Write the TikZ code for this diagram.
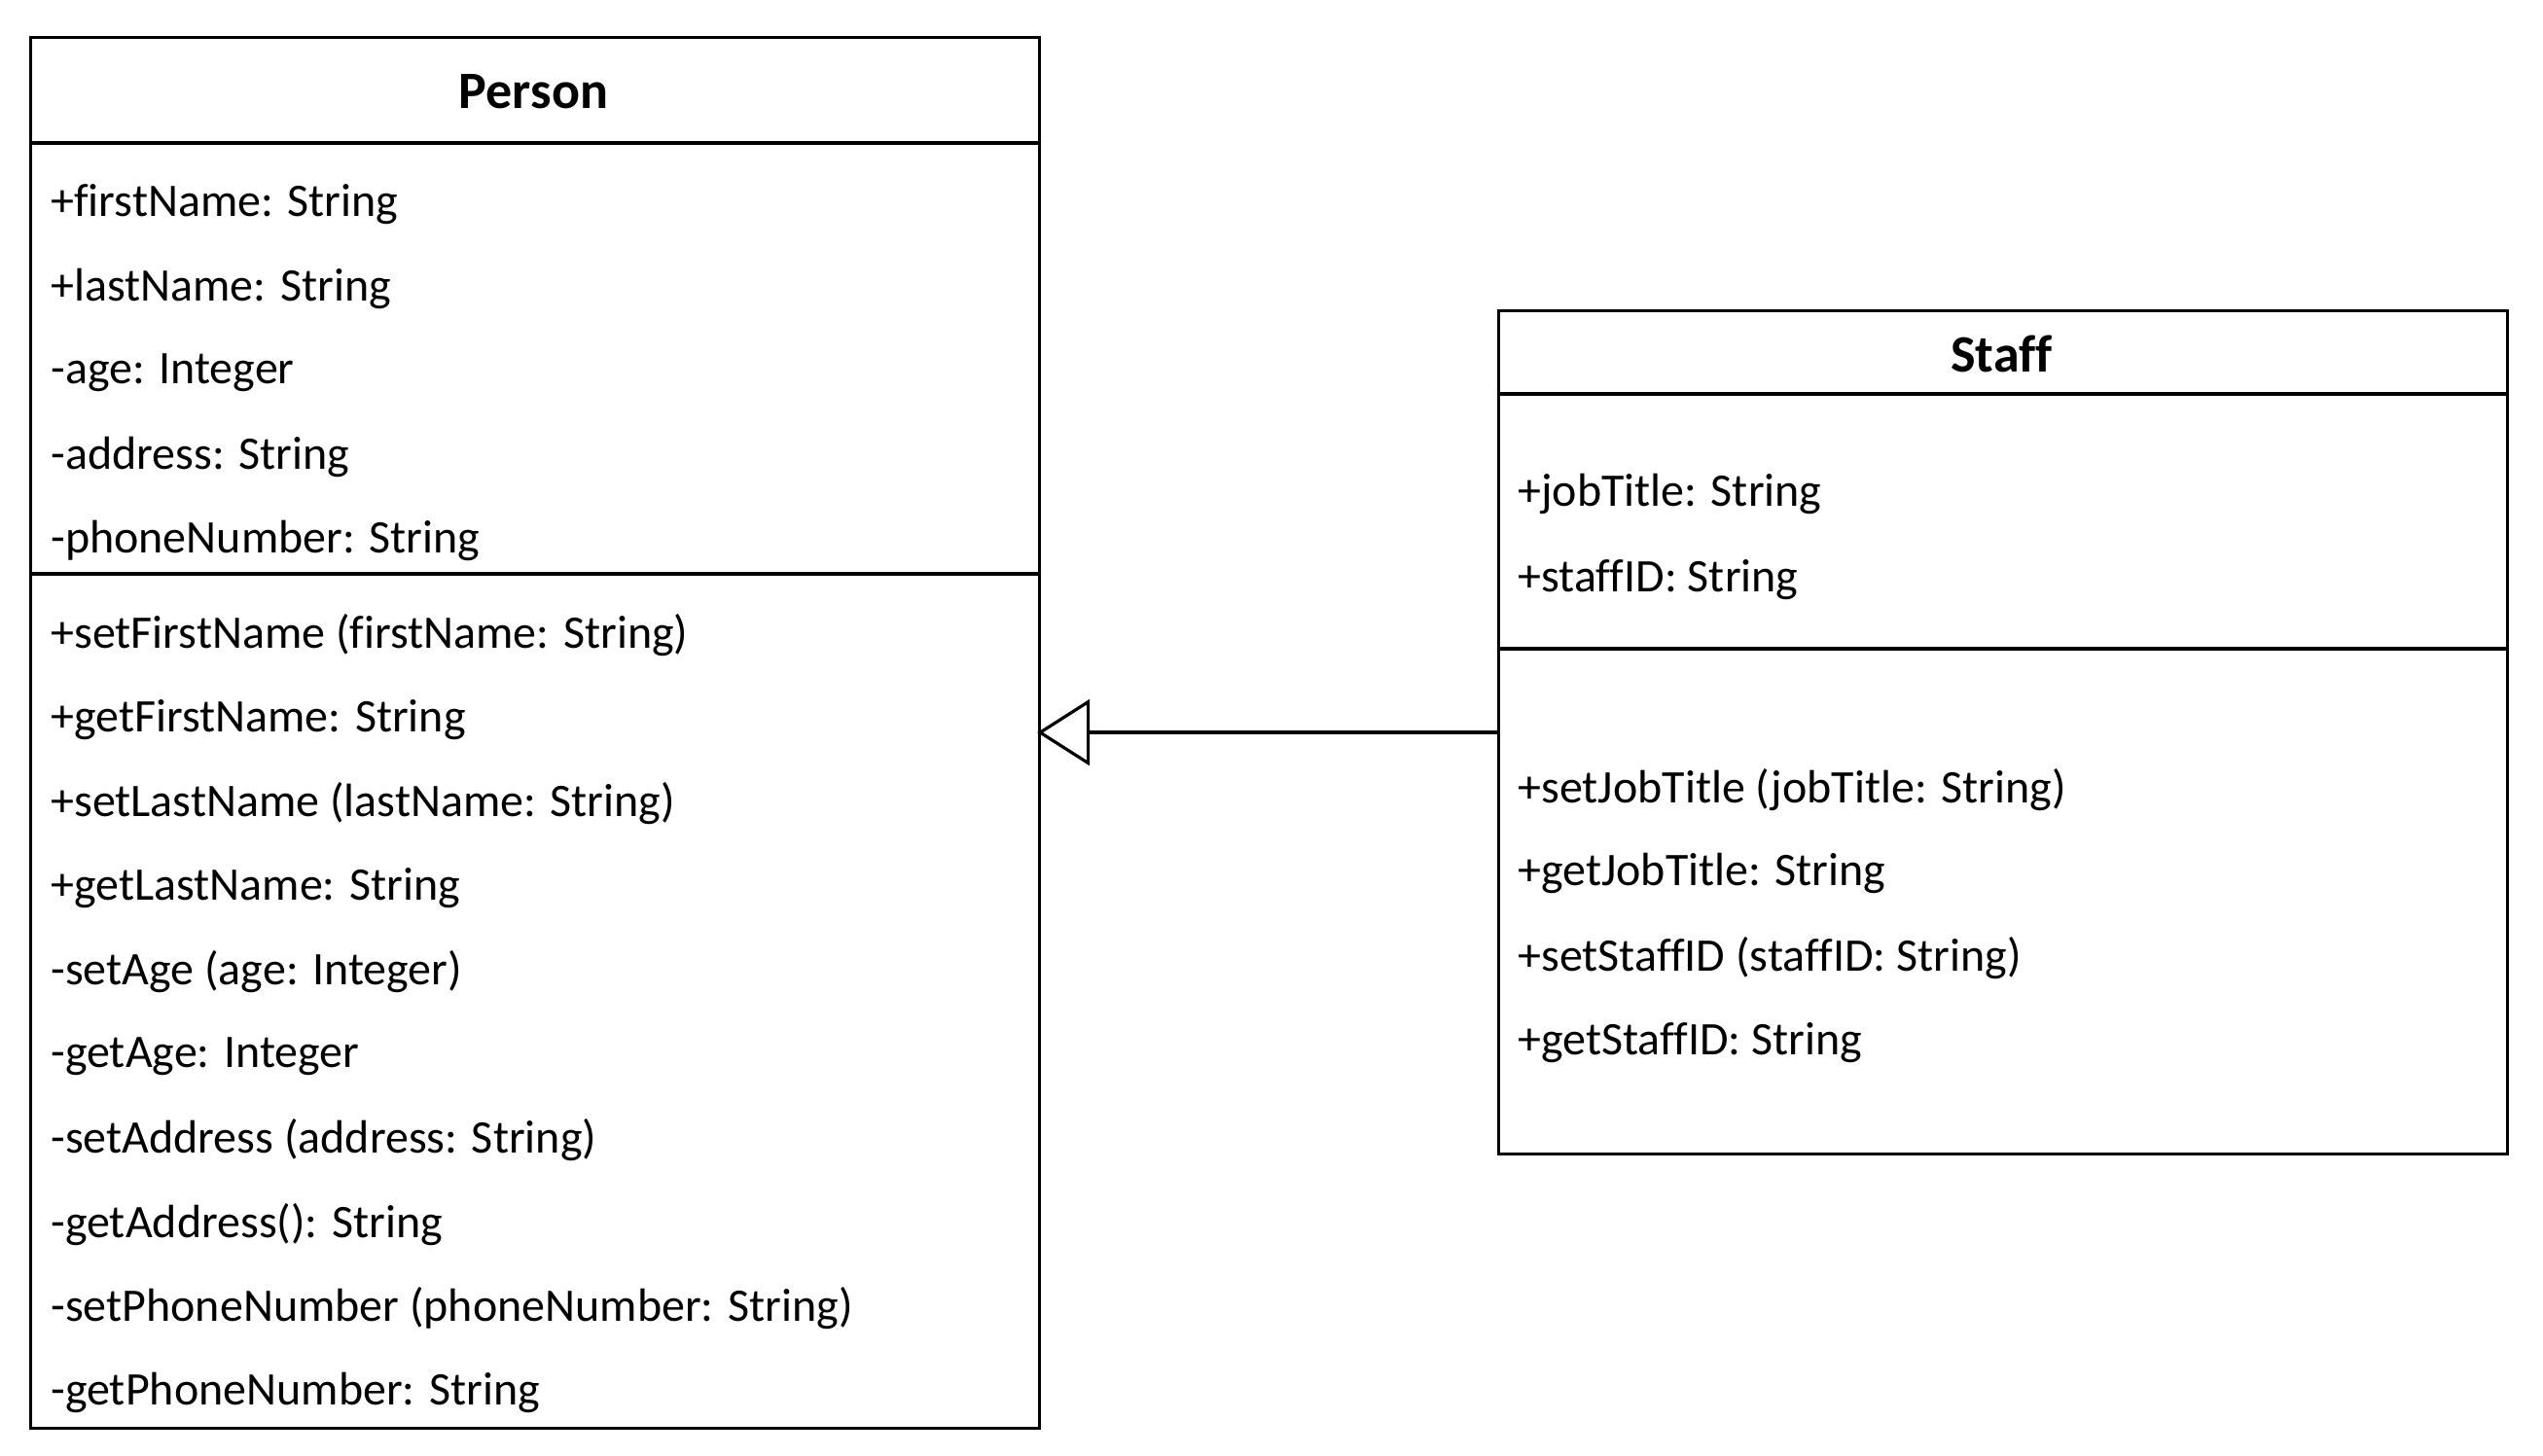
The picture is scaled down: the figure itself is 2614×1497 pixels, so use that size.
\documentclass[tikz,border=0pt]{standalone}
\usepackage{fontspec}
\setmainfont[Ligatures=CommonOff]{Carlito}
\usetikzlibrary{arrows.meta}
\begin{document}
\begin{tikzpicture}[x=0.5pt,y=-0.5pt,
  classbox/.style={draw=black,line width=1.6pt,fill=white,rectangle,inner sep=0pt,anchor=north west},
  sepline/.style={draw=black,line width=1.6pt},
  member/.style={anchor=west,inner sep=0pt,font=\fontsize{24}{28}\selectfont},
  title/.style={anchor=center,inner sep=0pt,font=\fontsize{27}{32}\selectfont\bfseries},
  inherit/.style={draw=black,line width=1.6pt,shorten >=-2pt,-{Triangle[open,length=27pt,width=34pt,line width=1.6pt]}}]
\useasboundingbox (0,0) rectangle (2614,1497);
% Person
\node[classbox,minimum width=518.5pt,minimum height=715pt] (person) at (30,37) {};
\draw[sepline] (person.west |- 0,147) -- (person.east |- 0,147);
\draw[sepline] (person.west |- 0,590) -- (person.east |- 0,590);
\node[title] (ptitle) at (548.5,94) {Person};
\node[member] (pa1) at (52,210) {+firstName: String};
\node[member] (pa2) at (52,297) {+lastName: String};
\node[member] (pa3) at (52,383) {-age: Integer};
\node[member] (pa4) at (52,470) {-address: String};
\node[member] (pa5) at (52,556) {-phoneNumber: String};
\node[member] (pm1) at (52,653) {+setFirstName (firstName: String)};
\node[member] (pm2) at (52,740) {+getFirstName: String};
\node[member] (pm3) at (52,826) {+setLastName (lastName: String)};
\node[member] (pm4) at (52,913) {+getLastName: String};
\node[member] (pm5) at (52,999) {-setAge (age: Integer)};
\node[member] (pm6) at (52,1086) {-getAge: Integer};
\node[member] (pm7) at (52,1172) {-setAddress (address: String)};
\node[member] (pm8) at (52,1259) {-getAddress(): String};
\node[member] (pm9) at (52,1345) {-setPhoneNumber (phoneNumber: String)};
\node[member] (pm10) at (52,1432) {-getPhoneNumber: String};
% Staff
\node[classbox,minimum width=518.5pt,minimum height=433.5pt] (staff) at (1539,318) {};
\draw[sepline] (staff.west |- 0,405) -- (staff.east |- 0,405);
\draw[sepline] (staff.west |- 0,667) -- (staff.east |- 0,667);
\node[title] (stitle) at (2057.5,364) {Staff};
\node[member] (sa1) at (1560,508) {+jobTitle: String};
\node[member] (sa2) at (1560,596) {+staffID: String};
\node[member] (sm1) at (1560,812) {+setJobTitle (jobTitle: String)};
\node[member] (sm2) at (1560,898) {+getJobTitle: String};
\node[member] (sm3) at (1560,985) {+setStaffID (staffID: String)};
\node[member] (sm4) at (1560,1072) {+getStaffID: String};
% Generalization
\draw[inherit] (staff.west) -- (person.east |- staff.west);
\end{tikzpicture}
\end{document}
